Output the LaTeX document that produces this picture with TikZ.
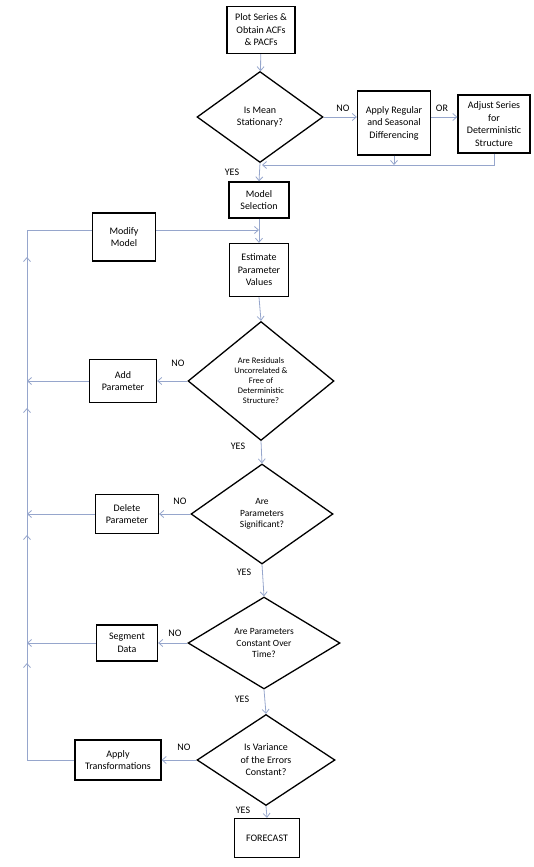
\documentclass[tikz,border=0pt]{standalone}
\usepackage{fontspec}
\setmainfont{Carlito}
\usetikzlibrary{shapes.geometric,arrows.meta}
\definecolor{flowline}{RGB}{150,166,204}
\begin{document}
\begin{tikzpicture}[x=1pt, y=-1pt,
  box/.style={draw, line width=1.3pt, align=center, inner sep=0pt, font=\fontsize{10}{12.5}\selectfont},
  dec/.style={draw, diamond, line width=1.3pt, align=center, inner sep=0pt, font=\fontsize{9.5}{11.5}\selectfont},
  lbl/.style={inner sep=0pt, font=\fontsize{10}{12}\selectfont},
  spine/.style={draw=flowline, line width=0.8pt},
  flow/.style={spine, -{Straight Barb[length=4pt,width=7pt]}}]
\useasboundingbox (0,0) rectangle (534,867);
\node[box, minimum width=68pt, minimum height=47pt] (0) at (261,30) {Plot Series \&\\Obtain ACFs\\\& PACFs};
\node[dec, minimum width=126pt, minimum height=91pt, font=\fontsize{10}{12}\selectfont] (1) at (260,117) {Is Mean\\Stationary?};
\node[box, minimum width=73pt, minimum height=64pt] (2) at (394,123) {Apply Regular\\and Seasonal\\Differencing};
\node[box, minimum width=72pt, minimum height=58pt] (3) at (494,124) {Adjust Series\\for\\Deterministic\\Structure};
\node[box, minimum width=60pt, minimum height=36pt] (4) at (259,200) {Model\\Selection};
\node[box, minimum width=63pt, minimum height=48pt] (5) at (124,237) {Modify\\Model};
\node[box, minimum width=59pt, minimum height=53pt] (6) at (259,270) {Estimate\\Parameter\\Values};
\node[dec, minimum width=146pt, minimum height=119pt, font=\fontsize{8.5}{10}\selectfont] (7) at (261,381) {Are Residuals\\Uncorrelated \&\\Free of\\Deterministic\\Structure?};
\node[box, minimum width=67pt, minimum height=43pt] (8) at (123,381) {Add\\Parameter};
\node[dec, minimum width=142pt, minimum height=100pt] (9) at (262,514) {Are\\Parameters\\Significant?};
\node[box, minimum width=63pt, minimum height=39pt] (10) at (127,514) {Delete\\Parameter};
\node[dec, minimum width=152pt, minimum height=92pt] (11) at (264,643) {Are Parameters\\Constant Over\\Time?};
\node[box, minimum width=61pt, minimum height=36pt] (12) at (127,643) {Segment\\Data};
\node[dec, minimum width=138pt, minimum height=91pt, font=\fontsize{10}{12.5}\selectfont] (13) at (266,760) {Is Variance\\of the Errors\\Constant?};
\node[box, minimum width=86pt, minimum height=40pt] (14) at (118,760) {Apply\\Transformations};
\node[box, minimum width=65pt, minimum height=39pt] (15) at (267,838) {FORECAST};
\node[lbl] (n1) at (343,108) {NO};
\node[lbl] (n2) at (442,108) {OR};
\node[lbl] (n3) at (232,172) {YES};
\node[lbl] (n4) at (178,363) {NO};
\node[lbl] (n5) at (238,446) {YES};
\node[lbl] (n6) at (180,501) {NO};
\node[lbl] (n7) at (244,572) {YES};
\node[lbl] (n8) at (175,633) {NO};
\node[lbl] (n9) at (242,699) {YES};
\node[lbl] (n10) at (184,747) {NO};
\node[lbl] (n11) at (243,810) {YES};
\coordinate (m) at (262,165);
\coordinate (s1) at (27,230);
\coordinate (s2) at (27,381);
\coordinate (s3) at (27,514);
\coordinate (s4) at (27,643);
\coordinate (s5) at (27,760);
\draw[flow] (0) -- (1);
\draw[flow] (1.east) -- (1.east -| 2.west);
\draw[flow] (2.east |- 1.east) -- (3.west |- 1.east);
\draw[flow] (3.south) |- (m);
\draw[flow] (2.south) -- (2.south |- m);
\draw[flow] (1.south) -- (4.north);
\draw[flow] (4.south) -- (6.north);
\draw[flow] (5.east |- s1) -- (s1 -| 4.south);
\draw[flow] (6.south) -- (7.north);
\draw[flow] (7.west) -- (8.east);
\draw[flow] (8.west) -- (s2);
\draw[flow] (7.south) -- (9.north);
\draw[flow] (9.west) -- (10.east);
\draw[flow] (10.west) -- (s3);
\draw[flow] (9.south) -- (11.north);
\draw[flow] (11.west) -- (12.east);
\draw[flow] (12.west) -- (s4);
\draw[flow] (11.south) -- (13.north);
\draw[flow] (13.west) -- (14.east);
\draw[flow] (13.south) -- (15.north);
\draw[spine] (14.west) -- (s5) -- (s1) -- (s1 -| 5.west);
\draw[flow] (s5) -- ([yshift=-20pt]s4);
\draw[flow] (s4) -- ([yshift=-21pt]s3);
\draw[flow] (s3) -- ([yshift=-27pt]s2);
\draw[flow] (s2) -- ([yshift=-27pt]s1);
\end{tikzpicture}
\end{document}
